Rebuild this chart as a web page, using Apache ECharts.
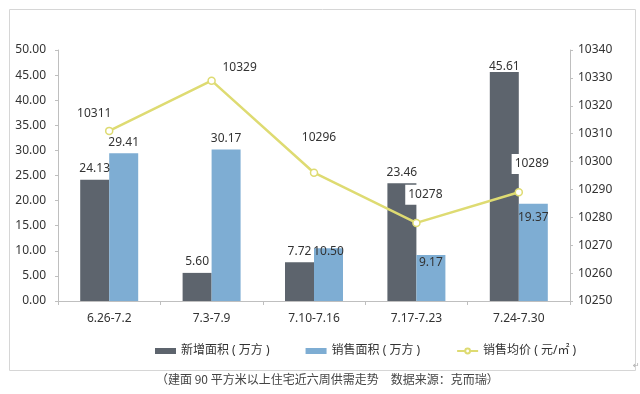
<!DOCTYPE html>
<html>
<head>
<meta charset="utf-8">
<script src="https://cdn.jsdelivr.net/npm/echarts@6/dist/echarts.min.js"></script>
<style>
html,body{margin:0;padding:0;background:#fff;}
#c{width:640px;height:394px;}
</style>
</head>
<body>
<div id="c"></div>
<script>
var categories = ['6.26-7.2', '7.3-7.9', '7.10-7.16', '7.17-7.23', '7.24-7.30'];
var newArea = [24.13, 5.60, 7.72, 23.46, 45.61];
var saleArea = [29.41, 30.17, 10.50, 9.17, 19.37];
var avgPrice = [10311, 10329, 10296, 10278, 10289];
var seriesNames = ['新增面积 ( 万方 )', '销售面积 ( 万方 )', '销售均价 ( 元/㎡ )'];
var caption = '（建面 90 平方米以上住宅近六周供需走势　数据来源：克而瑞）';

// label placement tweaks (style only)
var newAreaLabelOffset = [[0,0],[0,0],[0,0],[0,0],[0,6]];
var saleAreaLabelOffset = [[0,0],[0,0],[0,14],[0,19],[0,25]];
var priceLabelOffset = [[-15,-2],[28,2],[5,-20],[9,-9],[13,-9]];
var priceLabelBg = [false,false,false,true,true];

var FONT = '"Noto Sans","Noto Sans CJK SC",sans-serif';
var TXT = '#333';

function barData(vals, offs){
  return vals.map(function(v,i){
    return {value:v, label:{offset:offs[i]}};
  });
}
function lineData(vals){
  return vals.map(function(v,i){
    var lb = {offset: priceLabelOffset[i]};
    if (priceLabelBg[i]) { lb.backgroundColor = '#fff'; lb.padding = [4,3,4,3]; }
    return {value:v, label:lb};
  });
}

var chart = echarts.init(document.getElementById('c'), null, {renderer:'canvas'});
chart.setOption({
  backgroundColor:'#fff',
  animation:false,
  textStyle:{fontFamily:FONT},
  grid:{left:58, right:70, top:50, bottom:93},
  legend:{
    left:150, top:340, itemWidth:21, itemHeight:6, itemGap:36,
    textStyle:{fontSize:12, color:TXT, fontFamily:FONT},
    data:[
      {name:seriesNames[0], icon:'rect'},
      {name:seriesNames[1], icon:'rect'},
      {name:seriesNames[2]}
    ]
  },
  xAxis:{
    type:'category', data:categories,
    axisLine:{lineStyle:{color:'#bfbfbf'}},
    axisTick:{show:true, length:4, lineStyle:{color:'#bfbfbf'}},
    axisLabel:{color:TXT, fontSize:12, margin:12, fontFamily:FONT}
  },
  yAxis:[
    {type:'value', min:0, max:50, interval:5,
     axisLine:{show:true, lineStyle:{color:'#bfbfbf'}},
     axisTick:{show:true, length:3, lineStyle:{color:'#bfbfbf'}},
     splitLine:{show:false},
     axisLabel:{color:TXT, fontSize:12, margin:12, fontFamily:FONT, formatter:function(v){return v.toFixed(2);}}
    },
    {type:'value', min:10250, max:10340, interval:10, position:'right',
     axisLine:{show:true, lineStyle:{color:'#bfbfbf'}},
     axisTick:{show:true, length:3, lineStyle:{color:'#bfbfbf'}},
     splitLine:{show:false},
     axisLabel:{color:TXT, fontSize:12, margin:8, fontFamily:FONT, formatter:function(v){return String(v);}}
    }
  ],
  series:[
    {name:seriesNames[0], type:'bar', yAxisIndex:0, barWidth:29, barGap:'0%',
     itemStyle:{color:'#5d646d'},
     label:{show:true, position:'top', distance:5, color:TXT, fontSize:12, fontFamily:FONT, formatter:function(p){return p.value.toFixed(2);}},
     data:barData(newArea, newAreaLabelOffset)},
    {name:seriesNames[1], type:'bar', yAxisIndex:0, barWidth:29, barGap:'0%',
     itemStyle:{color:'#7eadd3'},
     label:{show:true, position:'top', distance:5, color:TXT, fontSize:12, fontFamily:FONT, formatter:function(p){return p.value.toFixed(2);}},
     data:barData(saleArea, saleAreaLabelOffset)},
    {name:seriesNames[2], type:'line', yAxisIndex:1,
     symbol:'circle', symbolSize:7, z:5,
     lineStyle:{color:'#dedb72', width:2.5},
     itemStyle:{color:'#fff', borderColor:'#dedb72', borderWidth:1.5},
     label:{show:true, position:'top', distance:5, color:TXT, fontSize:12, fontFamily:FONT},
     data:lineData(avgPrice)}
  ],
  graphic:[
    {type:'rect', left:7, top:7, z:-10, silent:true,
     shape:{width:626, height:361},
     style:{fill:'none', stroke:'#d6d6d6', lineWidth:1}},
    {type:'text', left:156, top:373, silent:true,
     style:{text:caption, fill:'#444', font:'12px "Noto Sans CJK SC","Noto Sans",sans-serif'}},
    {type:'text', left:484, top:375, silent:true,
     style:{text:'↵', fill:'#aaa', font:'9px "DejaVu Sans",sans-serif'}},
    {type:'text', left:633, top:362, silent:true,
     style:{text:'↵', fill:'#aaa', font:'8px "DejaVu Sans",sans-serif'}}
  ]
});
</script>
</body>
</html>
